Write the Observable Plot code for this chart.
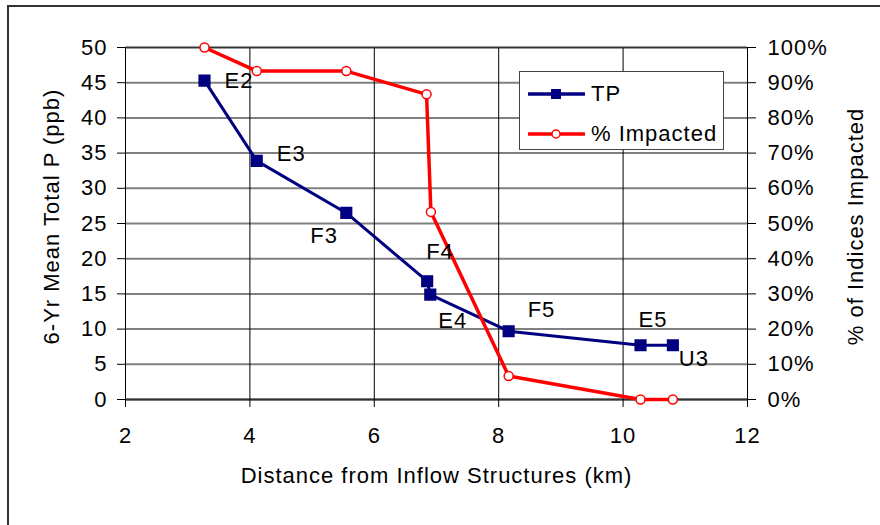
<!DOCTYPE html>
<html>
<head>
<meta charset="utf-8">
<script src="https://cdn.jsdelivr.net/npm/d3@7"></script>
<script src="https://cdn.jsdelivr.net/npm/@observablehq/plot@0.6"></script>
<style>
  html, body { margin: 0; padding: 0; background: #fff; overflow: hidden; }
  #wrap { position: relative; width: 880px; height: 525px; font-family: "Liberation Sans", Arial, sans-serif; }
  #chart { position: absolute; left: 0; top: 0; }
  #border { position: absolute; left: 7px; top: 5px; width: 900px; height: 600px; border: 2px solid #333; pointer-events: none; }
  #legend { position: absolute; left: 519px; top: 71px; width: 205px; height: 79px; background: #fff; border: 1.5px solid #444; box-sizing: border-box; font-size: 22px; letter-spacing: 1px; color: #000; }
  .lg-row { position: absolute; left: 8px; height: 30px; display: flex; align-items: center; }
  .lg-row svg { margin-right: 6px; }
</style>
</head>
<body>
<div id="wrap">
  <div id="chart"></div>
  <div id="border"></div>
  <div id="legend"></div>
</div>
<script>
// ---- data ----
const distance = [3.27, 4.11, 5.55, 6.85, 6.90, 8.16, 10.28, 10.80];
const tp = [45.3, 33.9, 26.5, 16.8, 14.9, 9.7, 7.7, 7.7];
const siteLabels = ["E2", "E3", "F3", "F4", "E4", "F5", "E5", "U3"];
const pctDistance = [3.27, 4.11, 5.55, 6.84, 6.91, 8.16, 10.28, 10.80];
const pctImpacted = [100, 93.3, 93.3, 86.7, 53.3, 6.7, 0, 0];
const xTicks = [2, 4, 6, 8, 10, 12];
const yTicks = [0, 5, 10, 15, 20, 25, 30, 35, 40, 45, 50];
const pctTicks = [0, 10, 20, 30, 40, 50, 60, 70, 80, 90, 100];
const seriesNames = ["TP", "% Impacted"];
const xTitle = "Distance from Inflow Structures (km)";
const yTitle = "6-Yr Mean Total P (ppb)";
const y2Title = "% of Indices Impacted";

// ---- layout / style (not data) ----
const labelOffsets = {E2: [20, 0], E3: [20, -7], F3: [-36, 23], F4: [-1, -29], E4: [8, 26], F5: [19, -21], E5: [-2, -25], U3: [6, 14]};
const navy = "#000080", red = "#ff0000";
const FS = 22;

const tpData = distance.map((d, i) => ({x: d, y: tp[i], label: siteLabels[i]}));
const pctData = pctDistance.map((d, i) => ({x: d, p: pctImpacted[i]}));
const pctScale = 50 / 100;

const labelMarks = tpData.map(d => Plot.text([d], {
  x: "x", y: "y", text: "label", textAnchor: "start",
  dx: labelOffsets[d.label][0], dy: labelOffsets[d.label][1],
  fontSize: FS, fill: "#000"
}));

const plot = Plot.plot({
  width: 880,
  height: 525,
  marginLeft: 125,
  marginRight: 133,
  marginTop: 47,
  marginBottom: 126,
  style: {fontFamily: "'Liberation Sans', Arial, sans-serif", fontSize: FS + "px", letterSpacing: "1px", color: "#000", background: "transparent"},
  x: {domain: [2, 12]},
  y: {domain: [0, 50]},
  marks: [
    Plot.ruleY(yTicks, {stroke: "#808080", strokeWidth: 2}),
    Plot.ruleX(xTicks, {stroke: "#000", strokeWidth: 1}),
    Plot.ruleY([50], {stroke: "#333", strokeWidth: 1.5}),
    Plot.ruleY([0], {stroke: "#333", strokeWidth: 2}),
    Plot.axisX({ticks: xTicks, tickSize: 8, tickPadding: 20, stroke: "#000", fontSize: FS, label: null, tickFormat: d => String(d)}),
    Plot.axisY({ticks: yTicks, tickSize: 8, tickPadding: 10, stroke: "#000", fontSize: FS, label: null, tickFormat: d => String(d)}),
    Plot.axisY({anchor: "right", ticks: pctTicks.map(p => p * pctScale), tickSize: 8, tickPadding: 12, stroke: "#000", fontSize: FS, label: null, tickFormat: d => Math.round(d / pctScale) + "%"}),
    Plot.text([xTitle], {text: d => d, frameAnchor: "bottom", textAnchor: "middle", dy: 83, fontSize: FS}),
    Plot.text([yTitle], {text: d => d, frameAnchor: "left", textAnchor: "middle", dx: -74, dy: -7, rotate: -90, fontSize: FS}),
    Plot.text([y2Title], {text: d => d, frameAnchor: "right", textAnchor: "middle", dx: 108, dy: 3, rotate: -90, fontSize: FS}),
    Plot.line(tpData, {x: "x", y: "y", stroke: navy, strokeWidth: 3}),
    Plot.dot(tpData, {x: "x", y: "y", symbol: "square", r: 6, fill: navy, stroke: navy}),
    Plot.line(pctData, {x: "x", y: d => d.p * pctScale, stroke: red, strokeWidth: 3.5}),
    Plot.dot(pctData, {x: "x", y: d => d.p * pctScale, symbol: "circle", r: 4.5, fill: "#fff", stroke: red, strokeWidth: 1.5}),
    ...labelMarks
  ]
});
document.getElementById("chart").appendChild(plot);

// legend
const legend = document.getElementById("legend");
const legendDefs = [
  {name: seriesNames[0], color: navy, marker: "square", top: 7},
  {name: seriesNames[1], color: red, marker: "circle", top: 47}
];
legendDefs.forEach(def => {
  const row = document.createElement("div");
  row.className = "lg-row";
  row.style.top = def.top + "px";
  const marker = def.marker === "square"
    ? `<rect x="23" y="10" width="10" height="10" fill="${def.color}"/>`
    : `<circle cx="28" cy="15" r="4" fill="#fff" stroke="${def.color}" stroke-width="1.5"/>`;
  row.innerHTML = `<svg width="57" height="30"><line x1="1" y1="15" x2="56" y2="15" stroke="${def.color}" stroke-width="3.5" stroke-linecap="round"/>${marker}</svg><span>${def.name}</span>`;
  legend.appendChild(row);
});
</script>
</body>
</html>
